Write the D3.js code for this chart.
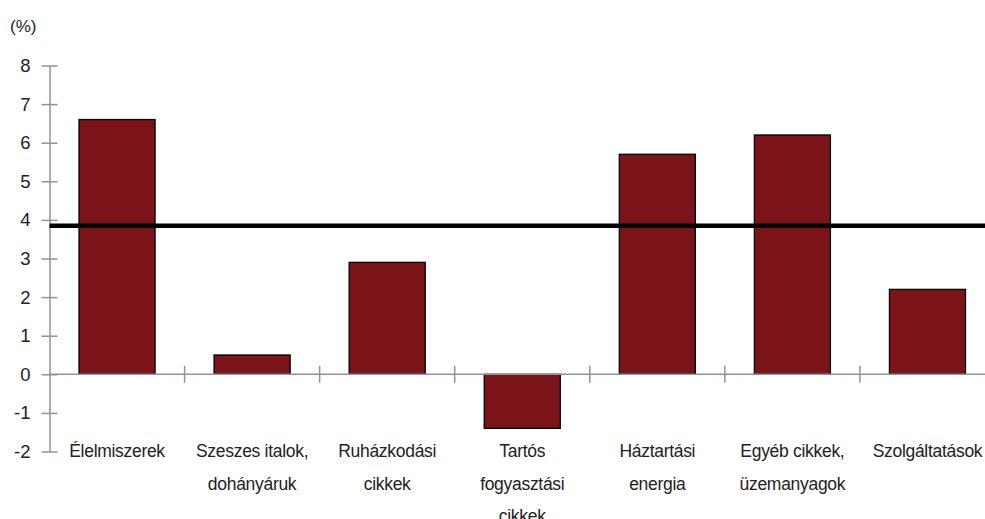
<!DOCTYPE html>
<html>
<head>
<meta charset="utf-8">
<script src="https://cdn.jsdelivr.net/npm/d3@7"></script>
<style>
  body { margin: 0; background: #fff; }
  svg { display: block; }
</style>
</head>
<body>
<svg id="chart"></svg>
<script>
// categories (line breaks as in the original chart)
const categories = [
  ["Élelmiszerek"],
  ["Szeszes italok,", "dohányáruk"],
  ["Ruházkodási", "cikkek"],
  ["Tartós", "fogyasztási", "cikkek"],
  ["Háztartási", "energia"],
  ["Egyéb cikkek,", "üzemanyagok"],
  ["Szolgáltatások"]
];
const values = [6.6, 0.5, 2.9, -1.4, 5.7, 6.2, 2.2];
const average = 3.85;
const yTicks = [-2, -1, 0, 1, 2, 3, 4, 5, 6, 7, 8];

const width = 985, height = 519;
const axisColor = "#8c9598";
const barColor = "#7b1418";
const font = "'Liberation Sans', Arial, sans-serif";

const keys = categories.map(d => d.join(" "));

const svg = d3.select("#chart")
    .attr("width", width)
    .attr("height", height)
    .style("font-family", font);

const x = d3.scaleBand()
    .domain(keys)
    .range([49.5, 995])
    .paddingInner(0.437)
    .paddingOuter(0.2185);

const y = d3.scaleLinear()
    .domain([-2, 8])
    .range([451.5, 65.5]);

// bars
svg.append("g")
    .selectAll("rect")
    .data(values)
    .join("rect")
    .attr("x", (d, i) => x(keys[i]))
    .attr("y", d => y(Math.max(0, d)))
    .attr("width", x.bandwidth())
    .attr("height", d => Math.abs(y(d) - y(0)))
    .attr("fill", barColor)
    .attr("stroke", "#000")
    .attr("stroke-width", 1.3);

// y axis
const yAxis = svg.append("g")
    .attr("transform", `translate(${x.range()[0]},0)`)
    .call(d3.axisLeft(y).tickValues(yTicks).tickFormat(d => String(d)).tickSize(0).tickPadding(19));
yAxis.select(".domain").attr("stroke", axisColor).attr("stroke-width", 1.5);
yAxis.selectAll(".tick line").remove();
yAxis.selectAll(".tick")
    .append("line")
    .attr("x1", -8).attr("x2", 8)
    .attr("stroke", axisColor).attr("stroke-width", 1.5);
yAxis.selectAll(".tick text")
    .attr("fill", "#222")
    .style("font-size", "18.5px")
    .style("font-family", font);

// x axis along zero, with ticks at the category boundaries
const x0 = x.range()[0];
const boundaries = keys.slice(1).map(k => x(k) - (x.step() - x.bandwidth()) / 2);
const xAxis = svg.append("g");
xAxis.append("line")
    .attr("x1", x0).attr("x2", width)
    .attr("y1", y(0)).attr("y2", y(0))
    .attr("stroke", axisColor).attr("stroke-width", 1.5);
xAxis.selectAll("line.tick")
    .data(boundaries)
    .join("line")
    .attr("class", "tick")
    .attr("x1", d => d).attr("x2", d => d)
    .attr("y1", y(0) - 8.5).attr("y2", y(0) + 8.5)
    .attr("stroke", axisColor).attr("stroke-width", 1.5);

// average line
svg.append("line")
    .attr("x1", x0).attr("x2", width)
    .attr("y1", y(average)).attr("y2", y(average))
    .attr("stroke", "#000")
    .attr("stroke-width", 4.5);

// category labels
svg.append("g")
    .selectAll("text")
    .data(categories)
    .join("text")
    .attr("x", (d, i) => x(keys[i]) + x.bandwidth() / 2)
    .attr("y", 457)
    .attr("text-anchor", "middle")
    .attr("fill", "#222")
    .style("font-size", "17.5px")
    .style("letter-spacing", "-0.3px")
    .selectAll("tspan")
    .data(d => d)
    .join("tspan")
    .attr("x", function () { return this.parentNode.getAttribute("x"); })
    .attr("dy", (d, i) => i === 0 ? 0 : 32.5)
    .text(d => d);

// unit label
svg.append("text")
    .attr("x", 10)
    .attr("y", 32)
    .attr("fill", "#222")
    .style("font-size", "17px")
    .text("(%)");
</script>
</body>
</html>
